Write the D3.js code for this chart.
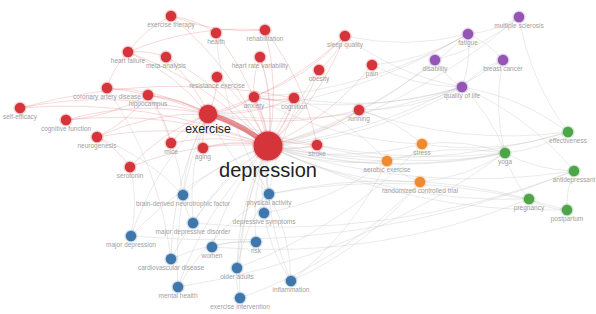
<!DOCTYPE html>
<html>
<head>
<meta charset="utf-8">
<script src="https://cdn.jsdelivr.net/npm/d3@7"></script>
<style>
  html, body { margin: 0; padding: 0; background: #fff; }
  svg { display: block; }
  .label { font-family: "Liberation Sans", Arial, sans-serif; text-anchor: middle; }
</style>
</head>
<body>
<script>
// keywords of the co-occurrence map
const keywords = [
    "exercise therapy", "health", "rehabilitation", "sleep quality", "heart failure",
    "meta-analysis", "heart rate variability", "pain", "obesity", "resistance exercise",
    "coronary artery disease", "anxiety", "cognition", "hippocampus", "self-efficacy",
    "cognitive function", "exercise", "running", "neurogenesis", "mice",
    "aging", "depression", "stroke", "serotonin",
    "multiple sclerosis", "fatigue", "disability", "breast cancer", "quality of life",
    "stress", "aerobic exercise", "randomized controlled trial",
    "effectiveness", "yoga", "antidepressant", "pregnancy", "postpartum",
    "brain-derived neurotrophic factor", "physical activity", "depressive symptoms",
    "major depressive disorder", "major depression", "women", "risk",
    "cardiovascular disease", "older adults", "inflammation", "mental health",
    "exercise intervention"
];
const cluster = [
    0, 0, 0, 0, 0, 0, 0, 0, 0, 0, 0, 0, 0, 0, 0, 0, 0, 0, 0, 0, 0, 0, 0, 0,
    3, 3, 3, 3, 3,
    4, 4, 4,
    2, 2, 2, 2, 2,
    1, 1, 1, 1, 1, 1, 1, 1, 1, 1, 1, 1
];
// map coordinates (VOSviewer style)
const mapX = [
    -1.29, -0.84, -0.35, 0.45, -1.72, -1.34, -0.40, 0.72, 0.19, -0.83,
    -1.93, -0.46, -0.06, -1.52, -2.80, -2.34, -0.92, 0.59, -2.03, -1.29,
    -0.97, -0.32, 0.17, -1.70,
    2.19, 1.68, 1.35, 2.03, 1.62,
    1.22, 0.87, 1.20,
    2.68, 2.05, 2.74, 2.29, 2.67,
    -1.17, -0.31, -0.36, -1.07, -1.69, -0.88, -0.44, -1.29, -0.63, -0.09, -1.22, -0.60
];
const mapY = [
    1.41, 1.24, 1.27, 1.21, 1.05, 1.00, 1.00, 0.92, 0.87, 0.80,
    0.69, 0.60, 0.59, 0.62, 0.49, 0.37, 0.43, 0.47, 0.20, 0.14,
    0.09, 0.11, 0.12, -0.10,
    1.40, 1.23, 0.97, 0.97, 0.70,
    0.13, -0.04, -0.25,
    0.25, 0.04, -0.14, -0.42, -0.53,
    -0.38, -0.37, -0.56, -0.66, -0.79, -0.90, -0.85, -1.02, -1.11, -1.24, -1.30, -1.41
];
const occurrences = [
    13, 13, 13, 13, 13, 13, 13, 13, 13, 13,
    13, 13, 13, 13, 13, 13, 40, 13, 13, 13,
    13, 100, 13, 13,
    13, 13, 13, 13, 13,
    13, 13, 13,
    13, 13, 13, 13, 13,
    13, 13, 13, 13, 13, 13, 13, 13, 13, 13, 13, 13
];

// links: [source, target, strength]
const links = [
    ["depression", "exercise", 10], ["depression", "anxiety", 3], ["depression", "cognition", 2],
    ["depression", "stroke", 2], ["depression", "running", 1], ["depression", "obesity", 1],
    ["depression", "heart rate variability", 2], ["depression", "rehabilitation", 1],
    ["depression", "sleep quality", 1], ["depression", "pain", 1], ["depression", "aging", 2],
    ["depression", "mice", 1], ["depression", "serotonin", 1], ["depression", "neurogenesis", 1],
    ["depression", "hippocampus", 1], ["depression", "cognitive function", 1],
    ["depression", "coronary artery disease", 1], ["depression", "heart failure", 1],
    ["depression", "meta-analysis", 1], ["depression", "exercise therapy", 1],
    ["depression", "health", 1], ["depression", "resistance exercise", 1],
    ["depression", "self-efficacy", 1], ["depression", "quality of life", 1],
    ["depression", "fatigue", 1], ["depression", "multiple sclerosis", 1],
    ["depression", "breast cancer", 1], ["depression", "disability", 1],
    ["depression", "stress", 1], ["depression", "aerobic exercise", 1],
    ["depression", "randomized controlled trial", 1], ["depression", "yoga", 2],
    ["depression", "effectiveness", 1], ["depression", "antidepressant", 1],
    ["depression", "pregnancy", 1], ["depression", "postpartum", 1],
    ["depression", "brain-derived neurotrophic factor", 1], ["depression", "physical activity", 2],
    ["depression", "depressive symptoms", 1], ["depression", "major depressive disorder", 1],
    ["depression", "major depression", 1], ["depression", "women", 1], ["depression", "risk", 1],
    ["depression", "cardiovascular disease", 1], ["depression", "older adults", 1],
    ["depression", "inflammation", 1], ["depression", "mental health", 1],
    ["depression", "exercise intervention", 1],
    ["exercise", "anxiety", 2], ["exercise", "cognition", 1], ["exercise", "hippocampus", 1],
    ["exercise", "neurogenesis", 1], ["exercise", "cognitive function", 1],
    ["exercise", "self-efficacy", 1], ["exercise", "coronary artery disease", 1],
    ["exercise", "heart failure", 1], ["exercise", "meta-analysis", 1], ["exercise", "mice", 1],
    ["exercise", "aging", 1], ["exercise", "serotonin", 1], ["exercise", "resistance exercise", 1],
    ["exercise", "brain-derived neurotrophic factor", 1], ["exercise", "major depressive disorder", 1],
    ["exercise", "major depression", 1], ["exercise", "physical activity", 1],
    ["exercise", "cardiovascular disease", 1], ["exercise", "mental health", 1],
    ["exercise", "quality of life", 1], ["exercise", "fatigue", 1],
    ["exercise", "aerobic exercise", 1], ["exercise", "yoga", 1], ["exercise", "sleep quality", 1],
    ["exercise", "running", 1], ["exercise", "stroke", 1],
    ["yoga", "effectiveness", 1], ["yoga", "antidepressant", 1], ["yoga", "pregnancy", 1],
    ["pregnancy", "postpartum", 1], ["antidepressant", "postpartum", 1], ["yoga", "stress", 1],
    ["yoga", "aerobic exercise", 1], ["yoga", "quality of life", 1],
    ["quality of life", "fatigue", 1], ["fatigue", "multiple sclerosis", 1],
    ["breast cancer", "fatigue", 1], ["breast cancer", "quality of life", 1],
    ["disability", "multiple sclerosis", 1], ["disability", "quality of life", 1],
    ["stress", "running", 1], ["aerobic exercise", "randomized controlled trial", 1],
    ["randomized controlled trial", "yoga", 1], ["anxiety", "stress", 1],
    ["anxiety", "quality of life", 1], ["anxiety", "sleep quality", 1],
    ["physical activity", "depressive symptoms", 1], ["physical activity", "older adults", 1],
    ["physical activity", "mental health", 1], ["depressive symptoms", "inflammation", 1],
    ["inflammation", "physical activity", 1], ["inflammation", "aerobic exercise", 1],
    ["inflammation", "randomized controlled trial", 1], ["older adults", "exercise intervention", 1],
    ["major depressive disorder", "antidepressant", 1], ["major depression", "antidepressant", 1],
    ["brain-derived neurotrophic factor", "hippocampus", 1],
    ["brain-derived neurotrophic factor", "neurogenesis", 1],
    ["brain-derived neurotrophic factor", "major depressive disorder", 1],
    ["women", "pregnancy", 1], ["cardiovascular disease", "coronary artery disease", 1],
    ["heart failure", "coronary artery disease", 1], ["heart rate variability", "anxiety", 1],
    ["cognition", "self-efficacy", 1], ["cognitive function", "hippocampus", 1],
    ["neurogenesis", "hippocampus", 1], ["serotonin", "neurogenesis", 1], ["mice", "hippocampus", 1],
    ["rehabilitation", "heart failure", 1], ["exercise therapy", "heart failure", 1],
    ["exercise therapy", "rehabilitation", 1], ["sleep quality", "fatigue", 1],
    ["sleep quality", "quality of life", 1], ["pain", "fatigue", 1], ["pain", "quality of life", 1],
    ["obesity", "physical activity", 1], ["stroke", "rehabilitation", 1],
    ["running", "effectiveness", 1], ["cognition", "older adults", 1],
    ["aerobic exercise", "cognition", 1], ["multiple sclerosis", "effectiveness", 1],
    ["breast cancer", "yoga", 1], ["health", "physical activity", 1],
    ["exercise intervention", "randomized controlled trial", 1], ["risk", "cardiovascular disease", 1],
    ["risk", "women", 1], ["antidepressant", "quality of life", 1],
    ["effectiveness", "quality of life", 1], ["postpartum", "physical activity", 1],
    ["pregnancy", "physical activity", 1], ["anxiety", "cognition", 2],
    ["health", "exercise therapy", 1], ["meta-analysis", "heart failure", 1],
    ["obesity", "sleep quality", 1], ["anxiety", "fatigue", 1], ["cognition", "quality of life", 1],
    ["stroke", "yoga", 1], ["running", "quality of life", 1], ["stress", "effectiveness", 1],
    ["major depression", "serotonin", 1], ["mental health", "yoga", 1],
    ["older adults", "stress", 1], ["depressive symptoms", "aerobic exercise", 1]
];

const colors = ["#d4343a", "#3f76ab", "#4ea549", "#9555b5", "#ef8a2f"];

const width = 596, height = 314;

const x = d3.scaleLinear().domain([-3, 3]).range([0, 600]);
const y = d3.scaleLinear().domain([1.57, -1.57]).range([0, 314]);
const r = d3.scaleSqrt().domain([0, 100]).range([0, 14.5]);
const fs = d3.scalePow().exponent(0.5).domain([13, 100]).range([6.5, 20]);

let nodes = keywords.map((k, i) => ({
    name: k,
    cluster: cluster[i],
    x: x(mapX[i]),
    y: y(mapY[i]),
    occ: occurrences[i]
}));
let byName = {};
nodes.forEach(n => byName[n.name] = n);

let svg = d3.select("body").append("svg")
    .attr("width", width)
    .attr("height", height)
    .attr("viewBox", [0, 0, width, height]);

function arc(s, t) {
    let dx = t.x - s.x, dy = t.y - s.y;
    let mx = (s.x + t.x) / 2 - dy * 0.12;
    let my = (s.y + t.y) / 2 + dx * 0.12;
    return "M" + s.x + "," + s.y + "Q" + mx + "," + my + " " + t.x + "," + t.y;
}

let inRed = d => byName[d[0]].cluster === 0 && byName[d[1]].cluster === 0;

svg.append("g")
    .selectAll("path")
    .data(links)
    .join("path")
    .attr("d", d => arc(byName[d[0]], byName[d[1]]))
    .attr("fill", "none")
    .attr("stroke", d => inRed(d) ? colors[0] : "#b4b4b4")
    .attr("stroke-opacity", d => d[2] > 5 ? 0.55 : (inRed(d) ? 0.2 : 0.3))
    .attr("stroke-width", d => 0.5 + d[2] * 0.45);

let node = svg.append("g")
    .selectAll("g")
    .data(nodes)
    .join("g")
    .attr("transform", d => "translate(" + d.x + "," + d.y + ")");

node.append("circle")
    .attr("r", d => r(d.occ) + 1.3)
    .attr("fill", d => colors[d.cluster])
    .attr("fill-opacity", 0.25);

node.append("circle")
    .attr("r", d => r(d.occ))
    .attr("fill", d => colors[d.cluster]);

node.append("text")
    .attr("class", "label")
    .attr("y", d => r(d.occ) + fs(d.occ) * 0.75 + 1)
    .attr("font-size", d => fs(d.occ))
    .attr("fill", d => d.occ > 30 ? "#222" : "#a0a0a0")
    .text(d => d.name);
</script>
</body>
</html>
